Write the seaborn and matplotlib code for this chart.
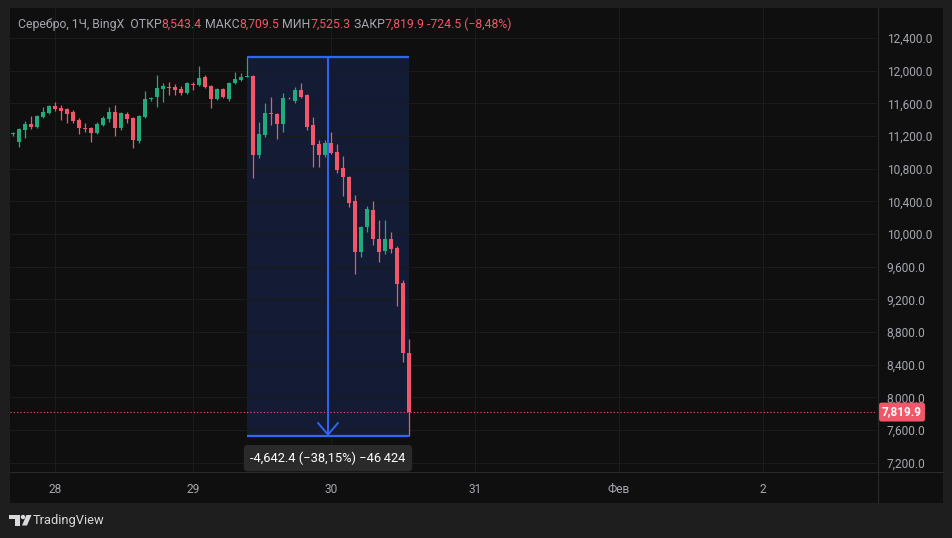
import numpy as np
import pandas as pd
import matplotlib.pyplot as plt
import matplotlib.patches as mpatches
from matplotlib.lines import Line2D
import seaborn as sns

# hourly candles, silver / BingX
opens = [11220, 11127, 11274, 11347, 11310, 11433, 11482, 11568, 11543, 11531,
         11494, 11396, 11298, 11298, 11237, 11335, 11408, 11494, 11298, 11470,
         11421, 11139, 11433, 11650, 11678, 11776, 11800, 11800, 11776, 11727,
         11837, 11825, 11923, 11813, 11653, 11776, 11653, 11849, 11886, 11929,
         11935, 10967, 11212, 11482, 11470, 11347, 11666, 11629, 11764, 11702,
         11335, 11102, 10967, 11115, 11004, 10809, 10698, 10404, 9780, 10086,
         10294, 9939, 9792, 9939, 9829, 9400, 8543.4]
highs = [11249, 11298, 11384, 11445, 11457, 11555, 11580, 11617, 11580, 11543,
         11519, 11421, 11359, 11310, 11372, 11445, 11555, 11580, 11494, 11494,
         11433, 11457, 11751, 11678, 11947, 11849, 11862, 11837, 11813, 11862,
         11862, 12058, 11947, 11825, 11788, 11788, 11862, 11984, 11972, 12167.7,
         11947, 11372, 11604, 11678, 11482, 11727, 11678, 11800, 11849, 11715,
         11433, 11151, 11151, 11249, 11102, 10955, 10711, 10478, 10098, 10343,
         10404, 10172, 10172, 10025, 9853, 9437, 8709.5]
lows = [11200, 11066, 11176, 11286, 11298, 11421, 11470, 11506, 11396, 11359,
        11359, 11225, 11249, 11127, 11225, 11323, 11372, 11200, 11274, 11359,
        11053, 11115, 11421, 11629, 11555, 11617, 11702, 11702, 11702, 11715,
        11764, 11813, 11788, 11543, 11641, 11666, 11629, 11837, 11874, 11923,
        10686, 10931, 11188, 11335, 11163, 11249, 11653, 11604, 11666, 11274,
        10820, 10820, 10943, 10980, 10747, 10465, 10331, 9510, 9719, 10025,
        9866, 9657, 9755, 9768, 9119, 8433, 7525.3]
closes = [11228, 11286, 11347, 11310, 11445, 11494, 11568, 11531, 11506, 11470,
          11384, 11298, 11292, 11237, 11347, 11421, 11494, 11298, 11482, 11408,
          11151, 11445, 11653, 11658, 11788, 11813, 11794, 11764, 11727, 11849,
          11830, 11911, 11800, 11653, 11776, 11678, 11849, 11898, 11923, 11941,
          10967, 11225, 11482, 11470, 11347, 11666, 11660, 11764, 11678, 11310,
          11090, 10967, 11115, 10992, 10784, 10698, 10380, 9780, 10086, 10306,
          9939, 9780, 9939, 9817, 9388, 8544.4, 7819.9]

day_ticks = [7, 30, 53, 77, 101, 125]
day_labels = ['28', '29', '30', '31', 'Фев', '2']
price_ticks = list(range(7200, 12800, 400))

range_start, range_end = 39, 66
range_top, range_bottom = 12167.7, 7525.3
range_label = '-4,642.4 (\u221238,15%) \u221246\u2009424'
last_price = closes[-1]

header = [('Серебро, 1Ч, BingX  ОТКР', 'grey'), (f'{opens[-1]:,.1f}', 'red'),
          (' МАКС', 'grey'), (f'{highs[-1]:,.1f}', 'red'),
          (' МИН', 'grey'), (f'{lows[-1]:,.1f}', 'red'),
          (' ЗАКР', 'grey'), (f'{closes[-1]:,.1f}', 'red'),
          (' -724.5 (\u22128,48%)', 'red')]

GREEN = '#22a97c'
RED = '#f25769'
BLUE = '#2f66f5'
GREY = '#a4a7af'
BG = '#0f0f0f'

W, H = 953, 538
sns.set_theme(style='dark', rc={'axes.facecolor': BG, 'figure.facecolor': '#1e1e1e'})
plt.rcParams['font.family'] = ['Roboto', 'DejaVu Sans']


def fx(x):
    return x / W


def fy(y):
    return 1 - y / H


fig = plt.figure(figsize=(W / 100, H / 100), dpi=100, facecolor='#1e1e1e')
fig.patches.append(mpatches.Rectangle((fx(10), fy(503)), fx(933), 495 / H,
                                      transform=fig.transFigure, facecolor=BG,
                                      edgecolor='none', zorder=-5))

ax = fig.add_axes([fx(10), fy(472), fx(867), 464 / H])
ax.set_zorder(2)
ax.set_facecolor(BG)

df = pd.DataFrame({'open': opens, 'high': highs, 'low': lows, 'close': closes})
df['i'] = np.arange(len(df))
colors = np.where(df['close'] >= df['open'], GREEN, RED)
body_lo = np.minimum(df['open'], df['close'])
body_h = np.maximum((df['close'] - df['open']).abs(), 12)

# measured range box
ax.add_patch(mpatches.Rectangle((range_start, range_bottom), range_end - range_start,
                                range_top - range_bottom, facecolor='#131b35',
                                edgecolor='none', zorder=0.3))

ax.vlines(df['i'], df['low'], df['high'], colors=colors, lw=0.9, zorder=3)
ax.bar(df['i'], body_h, bottom=body_lo, width=0.78, color=colors, linewidth=0, zorder=4)

ax.axhline(last_price, color=RED, ls=(0, (1, 2)), lw=0.8, zorder=2)

ax.hlines([range_top, range_bottom], range_start, range_end, colors=BLUE, lw=1.6, zorder=5)
mid = (range_start + range_end) / 2
ax.annotate('', xy=(mid, range_bottom), xytext=(mid, range_top),
            arrowprops=dict(arrowstyle='->,head_length=0.7,head_width=0.6', color=BLUE,
                            lw=1.4, shrinkA=0, shrinkB=0), zorder=5)
ax.annotate(range_label, xy=(mid, range_bottom), xytext=(0, -22),
            textcoords='offset pixels', ha='center', va='center', color='white',
            fontsize=9.3, annotation_clip=False,
            bbox=dict(boxstyle='round,pad=0.5,rounding_size=0.3', fc='#2a2a2a', ec='none'))

ax.annotate(f'{last_price:,.1f}', xy=(1, last_price), xycoords=('axes fraction', 'data'),
            xytext=(5, 0), textcoords='offset pixels', ha='left', va='center',
            color='white', fontweight='bold', fontsize=8.5, annotation_clip=False,
            bbox=dict(boxstyle='round,pad=0.25,rounding_size=0.2', fc=RED, ec='none'))

ax.set_xlim(-0.5, 144)
ax.set_ylim(7086, 12768)
ax.set_xticks(day_ticks, day_labels)
ax.set_yticks(price_ticks, [f'{v:,.1f}' for v in price_ticks])
ax.yaxis.tick_right()
ax.tick_params(axis='both', length=0, colors=GREY, labelsize=8.6)
ax.tick_params(axis='y', pad=7)
ax.tick_params(axis='x', pad=8)
ax.grid(True, color='#1b1b1b', lw=0.8)
for s in ['left', 'top', 'right', 'bottom']:
    ax.spines[s].set_visible(False)

fig.lines.append(Line2D([fx(10), fx(943)], [fy(472), fy(472)], transform=fig.transFigure,
                        color='#2a2a2a', lw=0.8))
fig.lines.append(Line2D([fx(878), fx(878)], [fy(8), fy(503)], transform=fig.transFigure,
                        color='#2a2a2a', lw=0.8))

# legend line at the top
prev = fig.text(fx(18), fy(24.5), header[0][0], va='center', ha='left', color=GREY, fontsize=8.8)
for txt, col in header[1:]:
    prev = ax.annotate(txt, xy=(1, 0), xycoords=prev, va='bottom', ha='left',
                       color=RED if col == 'red' else GREY, fontsize=8.8,
                       annotation_clip=False)

# TradingView mark
logo = '#d8d9dc'
fig.patches.append(mpatches.Polygon([(fx(9.5), fy(515)), (fx(20.5), fy(515)), (fx(20.5), fy(525.5)),
                                     (fx(15.5), fy(525.5)), (fx(15.5), fy(519)), (fx(9.5), fy(519))],
                                    closed=True, transform=fig.transFigure, fc=logo, ec='none'))
fig.patches.append(mpatches.Ellipse((fx(23), fy(517)), 4.4 / W, 4.4 / H,
                                    transform=fig.transFigure, fc=logo, ec='none'))
fig.patches.append(mpatches.Polygon([(fx(26.5), fy(515)), (fx(31.5), fy(515)), (fx(27), fy(525.5)),
                                     (fx(22), fy(525.5))],
                                    closed=True, transform=fig.transFigure, fc=logo, ec='none'))
fig.text(fx(33), fy(520.5), 'TradingView', va='center', ha='left', color=logo, fontsize=9.3)

fig.savefig('out.png', dpi=100, facecolor=fig.get_facecolor())
